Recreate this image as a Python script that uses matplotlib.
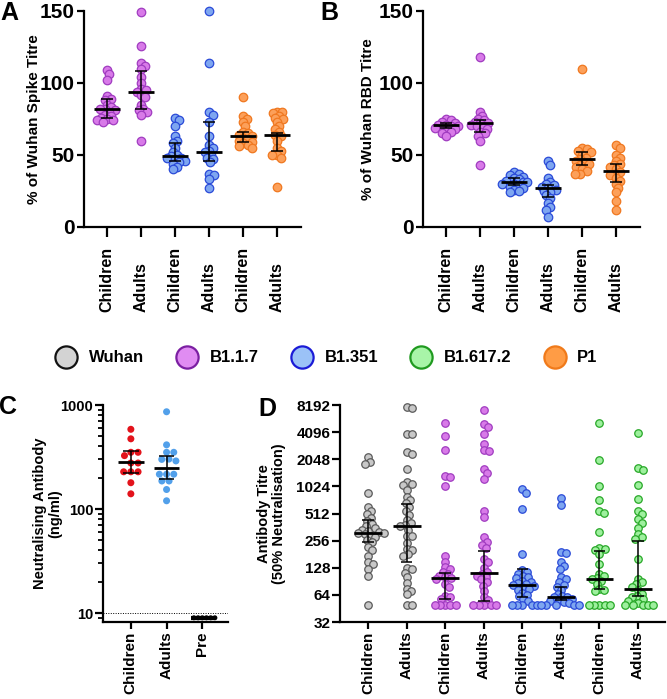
import numpy as np
import matplotlib
matplotlib.use('Agg')
import matplotlib.pyplot as plt
from matplotlib.lines import Line2D
from matplotlib.ticker import LogLocator, NullFormatter

plt.rcParams['font.family'] = ['Liberation Sans', 'DejaVu Sans']
plt.rcParams['font.weight'] = 'bold'
plt.rcParams['axes.labelweight'] = 'bold'

# ---------------- data ----------------
ab_groups = ['Children', 'Adults', 'Children', 'Adults', 'Children', 'Adults']

# A: % of Wuhan spike titre
spike_b117_child = [109, 106, 102, 91, 89, 88, 85, 83, 82, 82, 81, 80, 78, 77, 76, 75, 74, 74, 73]
spike_b117_adult = [149, 126, 114, 112, 110, 104, 100, 96, 95, 94, 92, 90, 85, 82, 81, 80, 78, 60]
spike_b1351_child = [76, 74, 70, 63, 60, 58, 55, 52, 50, 49, 48, 48, 47, 46, 45, 44, 42, 40]
spike_b1351_adult = [150, 114, 80, 78, 73, 63, 57, 55, 53, 52, 50, 48, 47, 45, 37, 36, 33, 27]
spike_p1_child = [90, 77, 75, 73, 70, 66, 65, 64, 63, 62, 61, 60, 59, 58, 57, 56, 55]
spike_p1_adult = [80, 80, 79, 77, 76, 75, 73, 70, 68, 66, 64, 63, 60, 55, 53, 50, 50, 48, 28]
spike_median = [82, 94, 49, 52, 63, 64]
spike_q1 = [76, 82, 46, 46, 59, 53]
spike_q3 = [89, 108, 58, 73, 66, 65]

# B: % of Wuhan RBD titre
rbd_b117_child = [75, 74, 73, 72, 71, 71, 70, 70, 69, 69, 68, 67, 66, 65, 63]
rbd_b117_adult = [118, 80, 77, 75, 74, 73, 72, 72, 71, 70, 69, 68, 66, 65, 63, 60, 43]
rbd_b1351_child = [38, 37, 36, 35, 34, 33, 32, 32, 31, 31, 30, 30, 29, 28, 27, 26, 25, 24]
rbd_b1351_adult = [46, 43, 34, 31, 30, 29, 28, 27, 26, 25, 24, 22, 20, 17, 14, 12, 7]
rbd_p1_child = [110, 55, 54, 53, 52, 50, 48, 47, 46, 45, 44, 43, 42, 40, 39, 37, 37]
rbd_p1_adult = [57, 55, 50, 48, 46, 44, 43, 42, 40, 38, 37, 36, 34, 32, 30, 27, 24, 18, 12]
rbd_median = [71, 72, 31, 27, 47, 39]
rbd_q1 = [69, 66, 29, 21, 43, 31]
rbd_q3 = [72, 74, 34, 29, 52, 44]

# C: neutralising antibody (ng/ml)
c_groups = ['Children', 'Adults', 'Pre']
neut_children = [584, 473, 351, 351, 326, 277, 277, 228, 228, 228, 179, 140]
neut_adults = [861, 414, 351, 351, 302, 290, 300, 216, 216, 216, 186, 186, 154, 120]
neut_pre = [9, 9, 9, 9, 9, 9]
neut_median = [281, 249, 9]
neut_q1 = [221, 196, 9]
neut_q3 = [365, 326, 9]
neut_limit = 10

# D: antibody titre (50% neutralisation)
d_groups = ['Children', 'Adults'] * 4
titre_wuhan_child = [2150, 1900, 1800, 870, 600, 540, 500, 460, 420, 390, 370, 350, 340, 330, 320,
                     315, 310, 300, 290, 280, 260, 245, 220, 200, 175, 150, 140, 125, 105, 50]
titre_wuhan_adult = [7700, 7500, 3950, 3900, 2450, 2350, 1580, 1150, 1100, 1050, 940, 790, 720, 670,
                     600, 540, 490, 430, 400, 380, 370, 340, 290, 285, 240, 205, 200, 180, 175, 128,
                     123, 113, 100, 87, 75, 70, 65, 50, 50]
titre_b117_child = [5200, 3700, 2600, 1350, 1300, 1024, 175, 150, 130, 125, 115, 110, 105, 100, 98,
                    95, 85, 78, 62, 60, 58, 50, 50, 50, 50, 50]
titre_b117_adult = [7300, 5000, 4700, 3900, 3000, 2600, 2500, 1600, 1450, 1250, 540, 470, 280, 250,
                    230, 210, 160, 150, 128, 115, 110, 105, 100, 95, 88, 80, 70, 60, 56, 50, 50, 50,
                    50, 50]
titre_b1351_child = [950, 870, 580, 182, 120, 115, 110, 105, 100, 98, 92, 90, 86, 84, 82, 80, 78, 75,
                     72, 68, 64, 62, 58, 55, 50, 50, 50, 50, 50]
titre_b1351_adult = [760, 640, 190, 185, 150, 135, 123, 100, 95, 88, 82, 78, 72, 66, 62, 60, 60, 58,
                     56, 55, 54, 52, 50, 50, 50, 50, 50]
titre_b16172_child = [5200, 2000, 1024, 730, 550, 520, 320, 210, 205, 200, 180, 140, 110, 105, 98, 95,
                      92, 85, 75, 72, 70, 50, 50, 50, 50, 50]
titre_b16172_adult = [4000, 1650, 1550, 1070, 740, 540, 500, 440, 400, 350, 300, 280, 270, 160, 95,
                      88, 84, 78, 72, 66, 62, 60, 58, 55, 52, 50, 50, 50, 50, 50]
titre_median = [315, 370, 99, 113, 82, 60, 95, 75]
titre_q1 = [245, 150, 58, 55, 61, 56, 74, 62]
titre_q3 = [430, 650, 113, 198, 123, 78, 198, 256]
titre_ticks = [32, 64, 128, 256, 512, 1024, 2048, 4096, 8192]

variants = ['Wuhan', 'B1.1.7', 'B1.351', 'B1.617.2', 'P1']

# ---------------- styles ----------------
leg_face = ['#d3d3d3', '#e08cf2', '#9bc2f7', '#a8f5a8', '#ff9c45']
leg_edge = ['#111111', '#7b1fa2', '#1a1ad6', '#1f9a1f', '#f07a1a']
pt_face = {'Wuhan': '#c8c8c8', 'B1.1.7': '#d87ae8', 'B1.351': '#7ea6f0',
           'B1.617.2': '#9ef09e', 'P1': '#fca05a'}
pt_edge = {'Wuhan': '#5a5a5a', 'B1.1.7': '#a03cc0', 'B1.351': '#2a4ad8',
           'B1.617.2': '#28a828', 'P1': '#f07820'}

W, H = 667, 699
fig = plt.figure(figsize=(W / 100, H / 100), dpi=100)


def box(x0, x1, ytop, ybot):
    return [x0 / W, 1 - ybot / H, (x1 - x0) / W, (ybot - ytop) / H]


def style(ax):
    for s in ['top', 'right']:
        ax.spines[s].set_visible(False)
    for s in ['left', 'bottom']:
        ax.spines[s].set_linewidth(1.6)
    ax.tick_params(axis='both', which='major', width=1.6, color='black')


def swarm_x(ax, xc, vals, gap):
    # simple beeswarm in pixel space
    vals = np.asarray(vals, float)
    pix = ax.transData.transform(np.column_stack([np.full(vals.size, xc), vals]))
    y = pix[:, 1]
    px = np.zeros(vals.size)
    done = []
    for i in np.argsort(-y):
        near = [j for j in done if abs(y[j] - y[i]) < gap]
        lim = {j: np.sqrt(gap ** 2 - (y[j] - y[i]) ** 2) for j in near}
        cands = [0.0]
        for j in near:
            cands += [px[j] + lim[j], px[j] - lim[j]]
        cands.sort(key=lambda c: (abs(c), -c))
        for c in cands:
            if all(abs(c - px[j]) >= lim[j] - 1e-6 for j in near):
                px[i] = c
                break
        done.append(i)
    x0 = pix[0, 0]
    return ax.transData.inverted().transform(np.column_stack([x0 + px, y]))[:, 0]


def draw_points(ax, xc, vals, face, edge, diam, gap, lw=0.9):
    xs = swarm_x(ax, xc, vals, gap)
    ax.scatter(xs, vals, s=(diam * 0.72) ** 2, facecolor=face, edgecolor=edge,
               linewidth=lw, zorder=3, clip_on=False)


def draw_summary(ax, xc, med, lo, hi, mw, cw, lwm=2.0, lwe=1.1):
    ax.vlines(xc, lo, hi, color='black', lw=lwe, zorder=4)
    ax.hlines([lo, hi], xc - cw, xc + cw, color='black', lw=lwe, zorder=4)
    ax.hlines(med, xc - mw, xc + mw, color='black', lw=lwm, zorder=4)


ab_colors = ['B1.1.7', 'B1.1.7', 'B1.351', 'B1.351', 'P1', 'P1']


def panel_ab(ax, groups, med, q1, q3, ylabel, labx):
    style(ax)
    ax.set_xlim(-0.68, 5.7)
    ax.set_ylim(0, 150)
    ax.set_yticks([0, 50, 100, 150])
    ax.tick_params(axis='y', labelsize=15, length=5, pad=2)
    ax.tick_params(axis='x', length=7, pad=54)
    ax.set_xticks(range(6))
    ax.set_xticklabels(ab_groups, rotation=90, fontsize=11.5, va='bottom')
    for i, vals in enumerate(groups):
        v = ab_colors[i]
        draw_points(ax, i, vals, pt_face[v], pt_edge[v], 8.5, 4.8)
        draw_summary(ax, i, med[i], q1[i], q3[i], 0.38, 0.17)
    ax.set_ylabel(ylabel, fontsize=11)
    ax.yaxis.set_label_coords(labx, 0.5)


axA = fig.add_axes(box(84, 301, 11, 227))
panel_ab(axA, [spike_b117_child, spike_b117_adult, spike_b1351_child, spike_b1351_adult,
               spike_p1_child, spike_p1_adult],
         spike_median, spike_q1, spike_q3, '% of Wuhan Spike Titre', -0.2)

axB = fig.add_axes(box(423, 640, 11, 227))
panel_ab(axB, [rbd_b117_child, rbd_b117_adult, rbd_b1351_child, rbd_b1351_adult,
               rbd_p1_child, rbd_p1_adult],
         rbd_median, rbd_q1, rbd_q3, '% of Wuhan RBD Titre', -0.22)

# ---------------- legend ----------------
handles = [Line2D([], [], ls='none', marker='o', markersize=16, markerfacecolor=f,
                  markeredgecolor=e, markeredgewidth=1.6) for f, e in zip(leg_face, leg_edge)]
fig.legend(handles, variants, loc='center', bbox_to_anchor=(0.49, 1 - 358 / H), ncol=5,
           frameon=False, handlelength=1.2, handletextpad=0.75, columnspacing=2.0,
           prop={'weight': 'bold', 'size': 12})

# ---------------- C ----------------
axC = fig.add_axes(box(103, 228, 405, 622))
style(axC)
axC.set_yscale('log')
axC.set_ylim(8.2, 1000)
axC.set_xlim(-0.78, 2.72)
axC.yaxis.set_minor_locator(LogLocator(base=10, subs=np.arange(2, 10), numticks=20))
axC.yaxis.set_minor_formatter(NullFormatter())
axC.set_yticks([10, 100, 1000])
axC.set_yticklabels(['10', '100', '1000'])
axC.tick_params(axis='y', which='major', labelsize=10.5, length=6, pad=1)
axC.tick_params(axis='y', which='minor', length=3.5, width=1.3)
axC.tick_params(axis='x', length=5, pad=2)
axC.set_xticks(range(3))
axC.set_xticklabels(c_groups, rotation=90, fontsize=11)
axC.axhline(neut_limit, color='black', lw=0.7, ls=(0, (1, 1.5)), zorder=1)
c_face = ['#e3131b', '#52a0ea', 'black']
for i, vals in enumerate([neut_children, neut_adults, neut_pre]):
    if i < 2:
        draw_points(axC, i, vals, c_face[i], 'none', 7, 7.2, lw=0)
        draw_summary(axC, i, neut_median[i], neut_q1[i], neut_q3[i], 0.36, 0.22)
    else:
        draw_points(axC, i, vals, c_face[i], 'none', 5, 4.2, lw=0)
        axC.hlines(neut_median[i], i - 0.33, i + 0.33, color='black', lw=3, zorder=4)
axC.set_ylabel('Neutralising Antibody\n(ng/ml)', fontsize=10.5, linespacing=1.1)
axC.yaxis.set_label_coords(-0.33, 0.5)

# ---------------- D ----------------
axD = fig.add_axes(box(340, 665, 405, 622))
style(axD)
axD.set_yscale('log', base=2)
axD.set_ylim(32, 8192)
axD.set_xlim(-0.73, 7.7)
axD.set_yticks(titre_ticks)
axD.set_yticklabels([str(t) for t in titre_ticks])
axD.yaxis.set_minor_locator(plt.NullLocator())
axD.tick_params(axis='y', labelsize=11, length=6, pad=1)
axD.tick_params(axis='x', length=5, pad=2)
axD.set_xticks(range(8))
axD.set_xticklabels(d_groups, rotation=90, fontsize=11)
d_colors = ['Wuhan', 'Wuhan', 'B1.1.7', 'B1.1.7', 'B1.351', 'B1.351', 'B1.617.2', 'B1.617.2']
d_data = [titre_wuhan_child, titre_wuhan_adult, titre_b117_child, titre_b117_adult,
          titre_b1351_child, titre_b1351_adult, titre_b16172_child, titre_b16172_adult]
for i, vals in enumerate(d_data):
    v = d_colors[i]
    draw_points(axD, i, vals, pt_face[v], pt_edge[v], 7.5, 5.2)
    draw_summary(axD, i, titre_median[i], titre_q1[i], titre_q3[i], 0.36, 0.15)
axD.set_ylabel('Antibody Titre\n(50% Neutralisation)', fontsize=10.5, linespacing=1.1)
axD.yaxis.set_label_coords(-0.165, 0.5)

# ---------------- panel letters ----------------
for letter, x, y in [('A', 9, 13), ('B', 329, 13), ('C', 8, 407), ('D', 267, 409)]:
    fig.text(x / W, 1 - y / H, letter, fontsize=18, fontweight='bold', ha='center', va='center')

fig.savefig('out.png', dpi=100)
